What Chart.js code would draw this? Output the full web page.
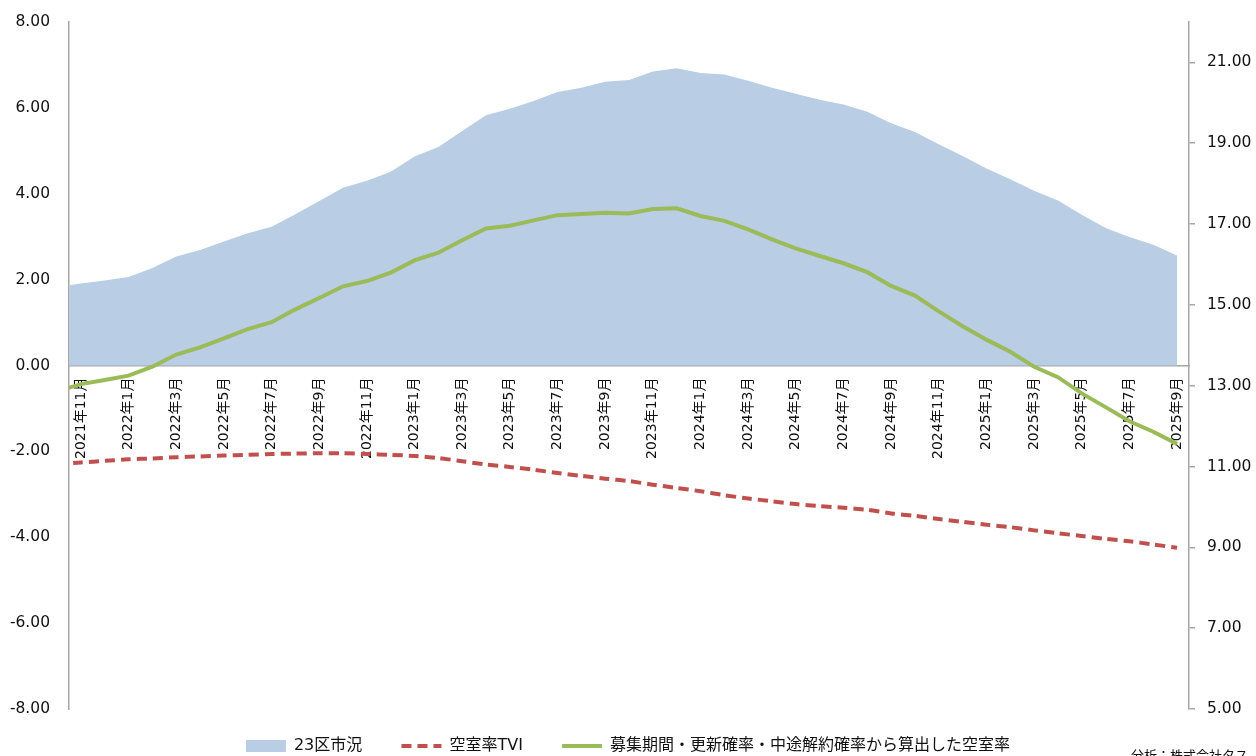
<!DOCTYPE html>
<html lang="ja">
<head>
<meta charset="utf-8">
<script src="https://cdn.jsdelivr.net/npm/chart.js@4.4.1/dist/chart.umd.min.js"></script>
<style>
  html, body { margin: 0; padding: 0; background: #fff; }
  #wrap { width: 1256px; height: 756px; position: relative; }
</style>
</head>
<body>
<div id="wrap"><canvas id="graficoMercado"></canvas></div>
<script>
// months: the first one (2021年10月) sits just off the left edge of the axis
const months = [
  "2021年10月", "2021年11月", "2021年12月",
  "2022年1月", "2022年2月", "2022年3月", "2022年4月", "2022年5月", "2022年6月",
  "2022年7月", "2022年8月", "2022年9月", "2022年10月", "2022年11月", "2022年12月",
  "2023年1月", "2023年2月", "2023年3月", "2023年4月", "2023年5月", "2023年6月",
  "2023年7月", "2023年8月", "2023年9月", "2023年10月", "2023年11月", "2023年12月",
  "2024年1月", "2024年2月", "2024年3月", "2024年4月", "2024年5月", "2024年6月",
  "2024年7月", "2024年8月", "2024年9月", "2024年10月", "2024年11月", "2024年12月",
  "2025年1月", "2025年2月", "2025年3月", "2025年4月", "2025年5月", "2025年6月",
  "2025年7月", "2025年8月", "2025年9月"
];

// 23区市況 (left axis)
const dataMercado = [
  1.83, 1.91, 1.98, 2.06, 2.27, 2.54, 2.69, 2.89, 3.08, 3.23, 3.52, 3.83,
  4.14, 4.30, 4.51, 4.87, 5.09, 5.46, 5.83, 5.98, 6.16, 6.37, 6.47, 6.61,
  6.65, 6.85, 6.92, 6.81, 6.78, 6.63, 6.47, 6.33, 6.19, 6.08, 5.91, 5.64,
  5.44, 5.15, 4.88, 4.59, 4.34, 4.07, 3.84, 3.51, 3.20, 2.99, 2.81, 2.56
];

// 空室率TVI (right axis)
const dataTVI = [
  11.06, 11.10, 11.14, 11.18, 11.20, 11.23, 11.25, 11.27, 11.29, 11.31, 11.32, 11.33,
  11.33, 11.31, 11.29, 11.26, 11.21, 11.13, 11.05, 10.99, 10.92, 10.84, 10.77, 10.70,
  10.64, 10.55, 10.47, 10.39, 10.29, 10.21, 10.14, 10.07, 10.02, 9.98, 9.93, 9.84,
  9.78, 9.70, 9.63, 9.56, 9.50, 9.42, 9.35, 9.28, 9.21, 9.15, 9.07, 8.99
];

// 募集期間・更新確率・中途解約確率から算出した空室率 (right axis)
const dataCalculado = [
  12.86, 13.04, 13.14, 13.25, 13.47, 13.77, 13.95, 14.17, 14.40, 14.57, 14.89, 15.17,
  15.46, 15.59, 15.80, 16.10, 16.29, 16.60, 16.89, 16.96, 17.09, 17.22, 17.25, 17.28,
  17.26, 17.37, 17.39, 17.20, 17.08, 16.87, 16.62, 16.40, 16.21, 16.03, 15.81, 15.47,
  15.23, 14.84, 14.47, 14.14, 13.84, 13.47, 13.21, 12.81, 12.47, 12.12, 11.86, 11.56
];

const leftTicks = [-8, -6, -4, -2, 0, 2, 4, 6, 8];
const rightTicks = [5, 7, 9, 11, 13, 15, 17, 19, 21];
const labelEvery = 2;
const noteText = "分析：株式会社タス";

const asPoints = arr => arr.map((v, i) => ({ x: i, y: v }));

Chart.defaults.font.family = '"DejaVu Sans", "Noto Sans CJK JP", sans-serif';
Chart.defaults.color = "#111";

// keep the legend row short while its items stay spaced apart
const legendHeight = {
  id: "legendHeight",
  beforeInit(chart) {
    const fit = chart.legend.fit;
    chart.legend.fit = function () {
      fit.call(this);
      this.height = 47;
    };
  }
};

const sourceNote = {
  id: "sourceNote",
  afterDraw(chart) {
    const c = chart.ctx;
    c.save();
    c.font = '13px "Noto Sans CJK JP", sans-serif';
    c.fillStyle = "#111";
    c.textBaseline = "top";
    c.fillText(noteText, chart.width - 125, 749);
    c.restore();
  }
};

const ctxMercado = document.getElementById("graficoMercado").getContext("2d");
new Chart(ctxMercado, {
  type: "line",
  data: {
    datasets: [
      {
        label: "23区市況",
        data: asPoints(dataMercado),
        yAxisID: "y",
        fill: "origin",
        backgroundColor: "#B9CDE5",
        borderWidth: 0,
        pointRadius: 0,
        pointStyle: "rect",
        order: 3
      },
      {
        label: "空室率TVI",
        data: asPoints(dataTVI),
        yAxisID: "y1",
        fill: false,
        borderColor: "#C0504D",
        backgroundColor: "#C0504D",
        borderWidth: 4,
        borderDash: [10, 6],
        borderCapStyle: "butt",
        tension: 0.2,
        pointRadius: 0,
        pointStyle: "line",
        order: 2
      },
      {
        label: "募集期間・更新確率・中途解約確率から算出した空室率",
        data: asPoints(dataCalculado),
        yAxisID: "y1",
        fill: false,
        borderColor: "#9BBB59",
        backgroundColor: "#9BBB59",
        borderWidth: 4,
        pointRadius: 0,
        pointStyle: "line",
        order: 1
      }
    ]
  },
  options: {
    responsive: true,
    maintainAspectRatio: false,
    animation: false,
    layout: { padding: { top: 22, left: 0, right: 0, bottom: 0 } },
    plugins: {
      tooltip: { enabled: false },
      legend: {
        position: "bottom",
        labels: {
          usePointStyle: true,
          pointStyleWidth: 40,
          boxHeight: 12,
          padding: 29,
          color: "#111",
          font: { size: 16 },
          generateLabels: chart => {
            const last = chart.data.datasets.length - 1;
            return Chart.defaults.plugins.legend.labels.generateLabels(chart)
              .sort((a, b) => a.datasetIndex - b.datasetIndex)
              .map(it => ({
                ...it,
                lineDash: chart.data.datasets[it.datasetIndex].borderDash || [],
                text: it.datasetIndex < last ? it.text + "  " : it.text
              }));
          }
        }
      }
    },
    scales: {
      x: {
        type: "linear",
        position: { y: 0 },
        min: 0.5,
        max: months.length - 0.5,
        afterBuildTicks: s => {
          s.ticks = months.map((m, i) => ({ value: i })).filter(t => t.value % labelEvery === 1);
        },
        ticks: {
          autoSkip: false,
          minRotation: 90,
          maxRotation: 90,
          padding: 12,
          color: "#111",
          font: { size: 14 },
          callback: v => months[v]
        },
        grid: { display: false, drawTicks: false },
        border: { display: true, color: "#A6A6A6", width: 1.5 }
      },
      y: {
        position: "left",
        min: -8,
        max: 8,
        afterBuildTicks: s => { s.ticks = leftTicks.map(v => ({ value: v })); },
        afterFit: s => { s.width = 69; },
        ticks: {
          padding: 8,
          color: "#111",
          font: { size: 15.5 },
          callback: v => v.toFixed(2)
        },
        // invisible tick marks only push the labels away from the axis line
        grid: {
          drawOnChartArea: false,
          drawTicks: true,
          tickLength: 11,
          color: "rgba(0,0,0,0)"
        },
        border: { display: true, color: "#A6A6A6", width: 1.5 }
      },
      y1: {
        position: "right",
        min: 5,
        max: 22,
        afterBuildTicks: s => { s.ticks = rightTicks.map(v => ({ value: v })); },
        afterFit: s => { s.width = 67; },
        ticks: {
          padding: 12,
          color: "#111",
          font: { size: 15.5 },
          callback: v => v.toFixed(2)
        },
        grid: {
          drawOnChartArea: false,
          drawTicks: true,
          tickLength: 6,
          color: "#A6A6A6",
          lineWidth: 1.5
        },
        border: { display: true, color: "#A6A6A6", width: 1.5 }
      }
    }
  },
  plugins: [legendHeight, sourceNote]
});
</script>
</body>
</html>
